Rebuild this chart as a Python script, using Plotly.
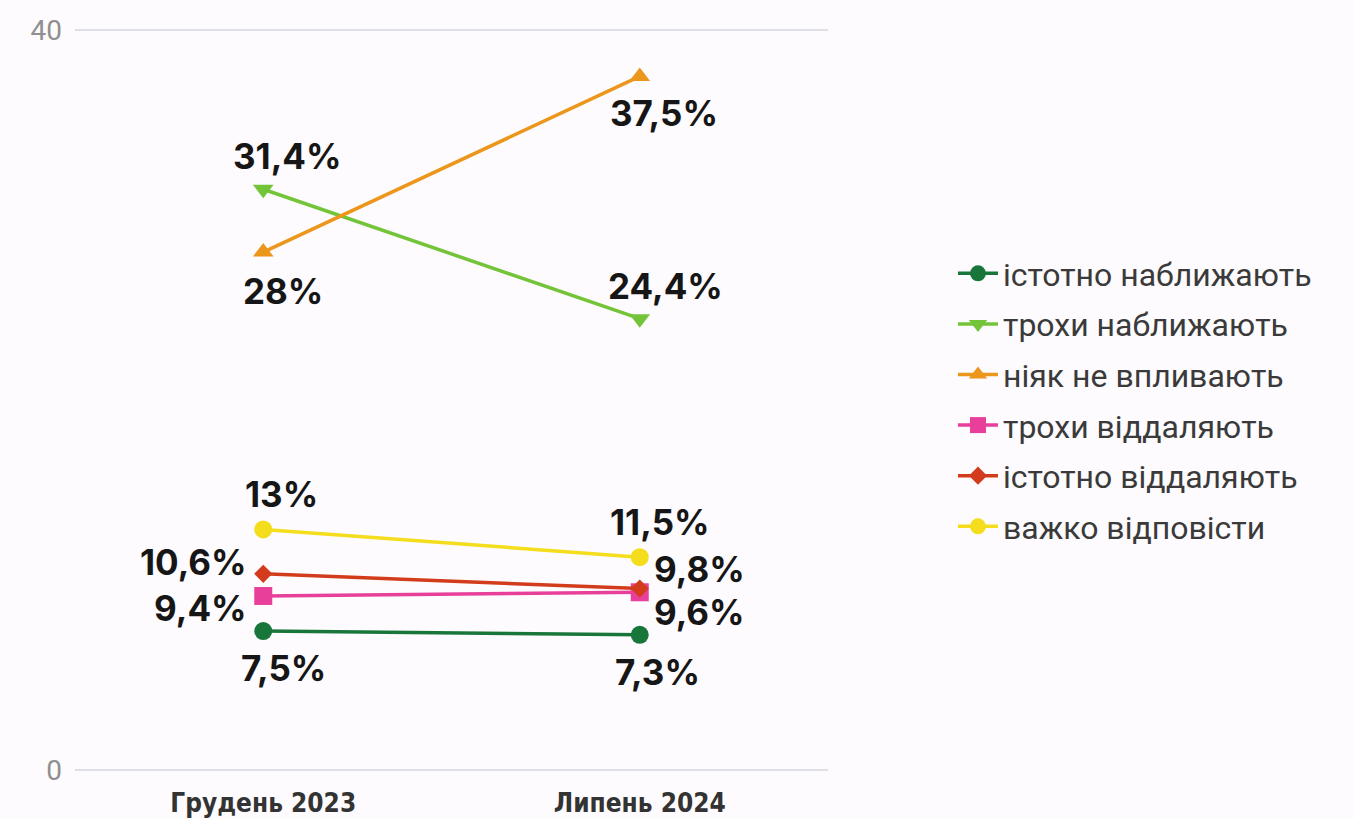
import plotly.graph_objects as go

categories = ["Грудень 2023", "Липень 2024"]
series_names = ["істотно наближають", "трохи наближають", "ніяк не впливають",
                "трохи віддаляють", "істотно віддаляють", "важко відповісти"]
values = [
    [7.5, 7.3],
    [31.4, 24.4],
    [28.0, 37.5],
    [9.4, 9.6],
    [10.6, 9.8],
    [13.0, 11.5],
]
labels = [
    ["7,5%", "7,3%"],
    ["31,4%", "24,4%"],
    ["28%", "37,5%"],
    ["9,4%", "9,6%"],
    ["10,6%", "9,8%"],
    ["13%", "11,5%"],
]
colors = ["#19763a", "#74c43a", "#ec961c", "#e8409a", "#d23c1c", "#f4dd1c"]
symbols = ["circle", "triangle-down", "triangle-up", "square", "diamond", "circle"]
# label placement: (xanchor, yanchor, xshift, yshift)
placement = [
    [("center", "top", 20, -14), ("center", "top", 18, -14)],
    [("center", "bottom", 24, 10), ("center", "bottom", 26, 10)],
    [("center", "top", 20, -16), ("center", "top", 24, -14)],
    [("right", "middle", -14, -12), ("left", "middle", 12, -20)],
    [("right", "middle", -14, 12), ("left", "middle", 12, 20)],
    [("center", "bottom", 18, 12), ("center", "bottom", 20, 12)],
]

fig = go.Figure()
for name, v, c, s in zip(series_names, values, colors, symbols):
    fig.add_trace(go.Scatter(
        x=categories, y=v, name=name, legendgroup=name, mode="lines+markers",
        line=dict(color=c, width=3.5),
        marker=dict(color=c, symbol=s, size=18 if s != "diamond" else 14),
        cliponaxis=False,
    ))

for v, lab, pl in zip(values, labels, placement):
    for cat, val, t, (xa, ya, xs, ys) in zip(categories, v, lab, pl):
        fig.add_annotation(x=cat, y=val, text=t, showarrow=False,
                           xanchor=xa, yanchor=ya, xshift=xs, yshift=ys,
                           font=dict(family="Inter", size=35, color="#161616", weight="bold"))

fig.update_layout(
    width=1354, height=819,
    paper_bgcolor="#fdfbfd", plot_bgcolor="#fdfbfd",
    margin=dict(l=75, r=526, t=21, b=40),
    font=dict(family="Roboto", color="#555"),
    legend=dict(x=1.166, y=0.5, yanchor="middle", xanchor="left",
                font=dict(size=32, color="#3a3a3a", family="Roboto"),
                tracegroupgap=6, itemwidth=40),
    showlegend=True,
)
fig.update_xaxes(type="category", range=[-0.5, 1.5], showgrid=False, showline=False,
                 tickfont=dict(size=26, color="#333", family="DejaVu Sans Condensed, Roboto", weight="bold"),
                 ticks="", zeroline=False, automargin=False, ticklabelstandoff=6)
fig.update_yaxes(range=[-0.5, 40.5], tickvals=[0, 40], showgrid=True, gridcolor="#dedee6",
                 gridwidth=1.5, zeroline=False, showline=False, automargin=False,
                 tickfont=dict(size=28, color="#8f8f8f", family="Roboto"), ticklabelstandoff=12)

fig.write_html("out.html", config={"displayModeBar": False},
               post_script="document.body.style.margin='0';document.body.style.background='#fdfbfd';")
